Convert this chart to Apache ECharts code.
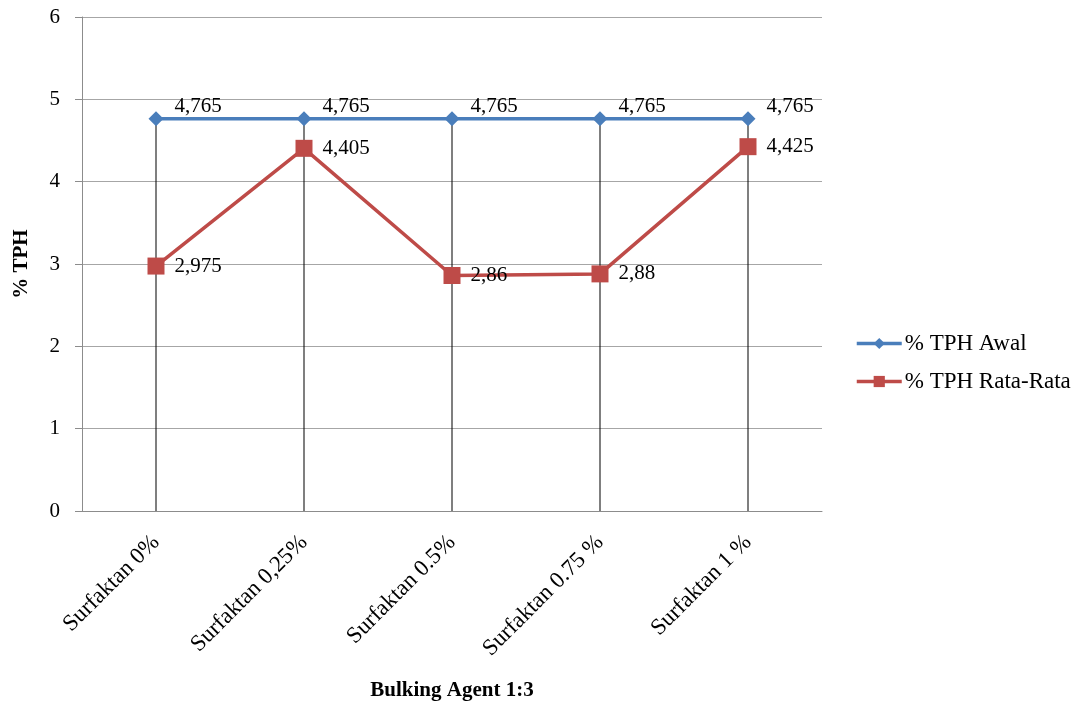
<!DOCTYPE html>
<html>
<head>
<meta charset="utf-8">
<script src="https://cdn.jsdelivr.net/npm/echarts@6/dist/echarts.min.js"></script>
<style>
  html, body { margin: 0; padding: 0; background: #fff; }
  #chart { width: 1086px; height: 702px; }
</style>
</head>
<body>
<div id="chart"></div>
<script>
// Categories and series values
const categories = ['Surfaktan 0%', 'Surfaktan 0,25%', 'Surfaktan 0.5%', 'Surfaktan 0.75 %', 'Surfaktan 1 %'];
const tphAwal = [4.765, 4.765, 4.765, 4.765, 4.765];
const tphRataRata = [2.975, 4.405, 2.86, 2.88, 4.425];
const seriesNames = ['% TPH Awal', '% TPH Rata-Rata'];

// Drop lines run from the axis up to the higher of the two points
const dropHeights = tphAwal.map((v, i) => Math.max(v, tphRataRata[i]));

const FONT = '"Liberation Serif", "Times New Roman", serif';
const fmt = p => String(p.value).replace('.', ',');

const chart = echarts.init(document.getElementById('chart'));
chart.setOption({
  animation: false,
  backgroundColor: '#fff',
  textStyle: { fontFamily: FONT, color: '#000' },
  grid: { left: 82, right: 264, top: 17, bottom: 191, containLabel: false, outerBoundsMode: 'none' },
  legend: {
    data: seriesNames,
    orient: 'vertical',
    left: 855,
    top: 332,
    padding: 0,
    itemWidth: 45,
    itemHeight: 14,
    itemGap: 15,
    lineStyle: { width: 3.5 },
    textStyle: { fontFamily: FONT, fontSize: 23, color: '#000', padding: [0, 0, 0, -2] }
  },
  xAxis: {
    type: 'category',
    data: categories,
    boundaryGap: true,
    name: 'Bulking Agent 1:3',
    nameLocation: 'middle',
    nameGap: 169,
    nameTextStyle: { fontFamily: FONT, fontSize: 21, fontWeight: 'bold', color: '#000' },
    axisLine: { lineStyle: { color: '#8c8c8c', width: 1 } },
    axisTick: { show: false },
    axisLabel: { rotate: 45, margin: 28, fontFamily: FONT, fontSize: 23, color: '#000', interval: 0 }
  },
  yAxis: {
    type: 'value',
    min: 0,
    max: 6,
    interval: 1,
    name: '% TPH',
    nameLocation: 'middle',
    nameGap: 50,
    nameTextStyle: { fontFamily: FONT, fontSize: 21, fontWeight: 'bold', color: '#000' },
    axisLine: { show: true, lineStyle: { color: '#8c8c8c', width: 1 } },
    axisTick: { show: true, inside: false, length: 7, lineStyle: { color: '#8c8c8c' } },
    axisLabel: { margin: 22, fontFamily: FONT, fontSize: 21, color: '#000' },
    splitLine: { lineStyle: { color: '#a6a6a6', width: 1 } }
  },
  series: [
    {
      name: 'drop',
      type: 'bar',
      data: dropHeights,
      barWidth: 1,
      itemStyle: { color: '#000' },
      silent: true,
      z: 1
    },
    {
      name: seriesNames[0],
      type: 'line',
      data: tphAwal,
      symbol: 'diamond',
      symbolSize: 15,
      lineStyle: { color: '#4a7ebb', width: 3.5 },
      itemStyle: { color: '#4a7ebb' },
      label: {
        show: true,
        position: 'right',
        distance: 11,
        offset: [0, -12],
        formatter: fmt,
        fontFamily: FONT,
        fontSize: 21,
        color: '#000'
      },
      z: 3
    },
    {
      name: seriesNames[1],
      type: 'line',
      data: tphRataRata,
      symbol: 'rect',
      symbolSize: 17,
      lineStyle: { color: '#be4b48', width: 3.5 },
      itemStyle: { color: '#be4b48' },
      label: {
        show: true,
        position: 'right',
        distance: 10,
        formatter: fmt,
        fontFamily: FONT,
        fontSize: 21,
        color: '#000'
      },
      z: 4
    }
  ]
});
</script>
</body>
</html>
